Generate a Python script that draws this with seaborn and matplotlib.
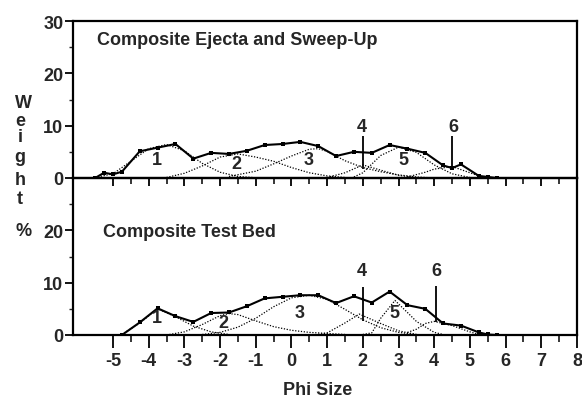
import numpy as np
import pandas as pd
import matplotlib.pyplot as plt
import seaborn as sns

# ---- dados ----
# painel superior: Composite Ejecta and Sweep-Up
phi_top = [-5.5, -5.25, -5.0, -4.75, -4.25, -3.75, -3.25, -2.75, -2.25, -1.75, -1.25,
           -0.75, -0.25, 0.25, 0.75, 1.25, 1.75, 2.25, 2.75, 3.25, 3.75, 4.25, 4.5,
           4.75, 5.25, 5.5, 5.75]
wt_top = [0.0, 1.0, 0.7, 1.2, 5.1, 5.8, 6.5, 3.7, 4.8, 4.6, 5.2,
          6.3, 6.5, 6.9, 6.1, 4.2, 5.0, 4.8, 6.3, 5.6, 4.8, 2.4, 1.9,
          2.6, 0.4, 0.2, 0.0]

top_c1_phi = [-5.5, -5.0, -4.5, -4.0, -3.5, -3.0, -2.5, -2.0, -1.5, -1.0]
top_c1_wt = [0.1, 0.8, 3.2, 5.6, 6.4, 5.2, 2.8, 1.1, 0.3, 0.05]
top_c2_phi = [-3.5, -3.0, -2.5, -2.0, -1.5, -1.0, -0.5, 0.0, 0.5, 1.0, 1.5]
top_c2_wt = [0.1, 0.9, 2.3, 4.0, 4.6, 4.0, 3.2, 2.0, 1.0, 0.4, 0.1]
top_c3_phi = [-1.75, -1.0, -0.5, 0.0, 0.5, 0.75, 1.0, 1.5, 2.0, 2.5, 3.0, 3.5, 4.0]
top_c3_wt = [0.3, 1.3, 2.7, 4.2, 5.5, 5.6, 5.1, 3.3, 2.0, 1.2, 0.6, 0.2, 0.0]
top_c4_phi = [1.0, 1.5, 2.0, 2.5, 3.0, 3.5]
top_c4_wt = [0.1, 1.0, 2.5, 1.5, 0.5, 0.1]
top_c5_phi = [1.75, 2.0, 2.5, 3.0, 3.5, 4.0, 4.5, 5.0]
top_c5_wt = [0.2, 1.0, 4.3, 5.9, 4.9, 2.5, 0.8, 0.1]
top_c6_phi = [3.25, 3.75, 4.0, 4.5, 5.0, 5.25, 5.5]
top_c6_wt = [0.2, 1.1, 1.7, 2.2, 1.0, 0.4, 0.1]

# painel inferior: Composite Test Bed
phi_bot = [-4.75, -4.25, -3.75, -3.25, -2.75, -2.25, -1.75, -1.25, -0.75, -0.25, 0.25,
           0.75, 1.25, 1.75, 2.25, 2.75, 3.25, 3.75, 4.25, 4.75, 5.25, 5.5, 5.75]
wt_bot = [0.0, 2.4, 5.1, 3.6, 2.5, 4.2, 4.3, 5.5, 7.0, 7.3, 7.6,
          7.6, 6.1, 7.4, 6.2, 8.3, 5.7, 5.0, 2.2, 1.8, 0.5, 0.1, 0.0]

bot_c1_phi = [-4.75, -4.25, -3.75, -3.25, -2.75, -2.25, -1.75]
bot_c1_wt = [0.1, 2.3, 5.0, 3.5, 1.7, 0.6, 0.1]
bot_c2_phi = [-3.5, -3.0, -2.5, -2.0, -1.75, -1.5, -1.0, -0.5, 0.0, 0.5, 1.0, 1.5]
bot_c2_wt = [0.0, 0.6, 2.0, 3.7, 4.1, 3.9, 2.7, 1.6, 0.9, 0.5, 0.3, 0.1]
bot_c3_phi = [-2.5, -2.0, -1.5, -1.0, -0.5, 0.0, 0.5, 1.0, 1.5, 2.0, 2.5, 3.0, 3.5]
bot_c3_wt = [0.1, 0.5, 1.5, 3.2, 5.4, 7.1, 7.6, 6.8, 4.9, 2.9, 1.4, 0.5, 0.1]
bot_c4_phi = [0.75, 1.0, 1.5, 1.9, 2.5, 3.0, 3.5]
bot_c4_wt = [0.1, 0.4, 2.3, 4.0, 2.2, 0.8, 0.1]
bot_c5_phi = [2.0, 2.25, 2.5, 2.9, 3.25, 3.5, 4.0, 4.25]
bot_c5_wt = [0.1, 0.4, 3.2, 6.6, 4.3, 2.6, 0.5, 0.1]
bot_c6_phi = [3.25, 3.5, 3.75, 4.0, 4.5, 5.0, 5.25]
bot_c6_wt = [0.5, 1.1, 2.2, 2.6, 1.8, 0.6, 0.1]

# rotulos dos componentes (numero, phi, peso)
top_labels = ['1', '2', '3', '4', '5', '6']
top_lab_phi = [-3.77, -1.54, 0.47, 1.98, 3.13, 4.55]
top_lab_wt = [3.6, 2.7, 3.6, 9.9, 3.6, 9.9]
bot_labels = ['1', '2', '3', '4', '5', '6']
bot_lab_phi = [-3.77, -1.9, 0.22, 1.98, 2.88, 4.05]
bot_lab_wt = [3.4, 2.3, 4.3, 12.4, 4.3, 12.4]

# marcadores verticais (phi, de, ate)
top_mark_phi = [2.0, 4.5]
top_mark_lo = [1.7, 2.1]
top_mark_hi = [8.0, 8.0]
bot_mark_phi = [2.0, 4.05]
bot_mark_lo = [2.6, 2.5]
bot_mark_hi = [9.2, 9.4]

sns.set_style('ticks')
plt.rcParams['font.family'] = ['Liberation Sans', 'DejaVu Sans']
plt.rcParams['font.weight'] = 'bold'
plt.rcParams['axes.unicode_minus'] = False  # hifen simples como no original

fig = plt.figure(figsize=(5.82, 4.02), dpi=100)
W, H = 582, 402
ax1 = fig.add_axes([73 / W, 1 - 179 / H, 504 / W, 157 / H])
ax2 = fig.add_axes([73 / W, 1 - 336 / H, 504 / W, 157 / H])


def painel(ax, phi, wt, comps, labels, lab_phi, lab_wt, mk_phi, mk_lo, mk_hi):
    for cp, cw in comps:
        sns.lineplot(x=cp, y=cw, ax=ax, color='black', lw=0.9, linestyle=(0, (1, 1.3)),
                     sort=False, errorbar=None)
    sns.lineplot(x=phi, y=wt, ax=ax, color='black', lw=1.5, marker='s', markersize=3.5,
                 markeredgewidth=0, sort=False, errorbar=None)
    for t, px, py in zip(labels, lab_phi, lab_wt):
        ax.text(px, py, t, ha='center', va='center', fontsize=13, fontweight='bold')
    ax.vlines(mk_phi, mk_lo, mk_hi, color='black', lw=1.3)
    ax.set_xlim(-6.12, 8)
    ax.set_ylim(0, 30)
    ax.set_xticks(range(-5, 9))
    ax.set_xticks(np.arange(-4.5, 8, 1), minor=True)
    ax.set_yticks([5, 15, 25], minor=True)
    ax.tick_params(axis='both', which='major', direction='out', width=1.3, labelsize=13,
                   pad=1, color='black')
    ax.tick_params(axis='y', which='major', length=6)
    ax.tick_params(axis='y', which='minor', length=3, width=1)
    ax.tick_params(axis='x', which='minor', direction='out', width=1.3)
    for s in ax.spines.values():
        s.set_linewidth(1.6)
        s.set_color('black')
        s.set_visible(True)
    ax.set_facecolor('none')
    ax.set_xlabel('')
    ax.set_ylabel('')


painel(ax1, phi_top, wt_top,
       [(top_c1_phi, top_c1_wt), (top_c2_phi, top_c2_wt), (top_c3_phi, top_c3_wt),
        (top_c4_phi, top_c4_wt), (top_c5_phi, top_c5_wt), (top_c6_phi, top_c6_wt)],
       top_labels, top_lab_phi, top_lab_wt, top_mark_phi, top_mark_lo, top_mark_hi)
painel(ax2, phi_bot, wt_bot,
       [(bot_c1_phi, bot_c1_wt), (bot_c2_phi, bot_c2_wt), (bot_c3_phi, bot_c3_wt),
        (bot_c4_phi, bot_c4_wt), (bot_c5_phi, bot_c5_wt), (bot_c6_phi, bot_c6_wt)],
       bot_labels, bot_lab_phi, bot_lab_wt, bot_mark_phi, bot_mark_lo, bot_mark_hi)

ax1.set_yticks([0, 10, 20, 30])
ax1.tick_params(axis='x', which='major', length=6, labelbottom=False)
ax1.tick_params(axis='x', which='minor', length=4)
ax2.set_yticks([0, 10, 20])
ax2.tick_params(axis='x', which='major', length=9, pad=3)
ax2.tick_params(axis='x', which='minor', length=5)

ax1.text(0.048, 0.885, 'Composite Ejecta and Sweep-Up', transform=ax1.transAxes,
         fontsize=13, fontweight='bold', va='center', ha='left')
ax2.text(0.06, 0.66, 'Composite Test Bed', transform=ax2.transAxes,
         fontsize=13, fontweight='bold', va='center', ha='left')

# titulo do eixo y, letra por letra
letras = ['W', 'e', 'i', 'g', 'h', 't', '%']
letras_x = [23, 20, 20, 20, 20, 20, 24]
letras_y = [104, 122, 138, 157, 181, 200, 232]
for l, lx, ly in zip(letras, letras_x, letras_y):
    fig.text(lx / W, 1 - ly / H, l, ha='center', va='center', fontsize=13,
             fontweight='bold')

fig.text(318 / W, 1 - 391 / H, 'Phi Size', ha='center', va='center', fontsize=13,
         fontweight='bold')

fig.savefig('out.png', dpi=100)
